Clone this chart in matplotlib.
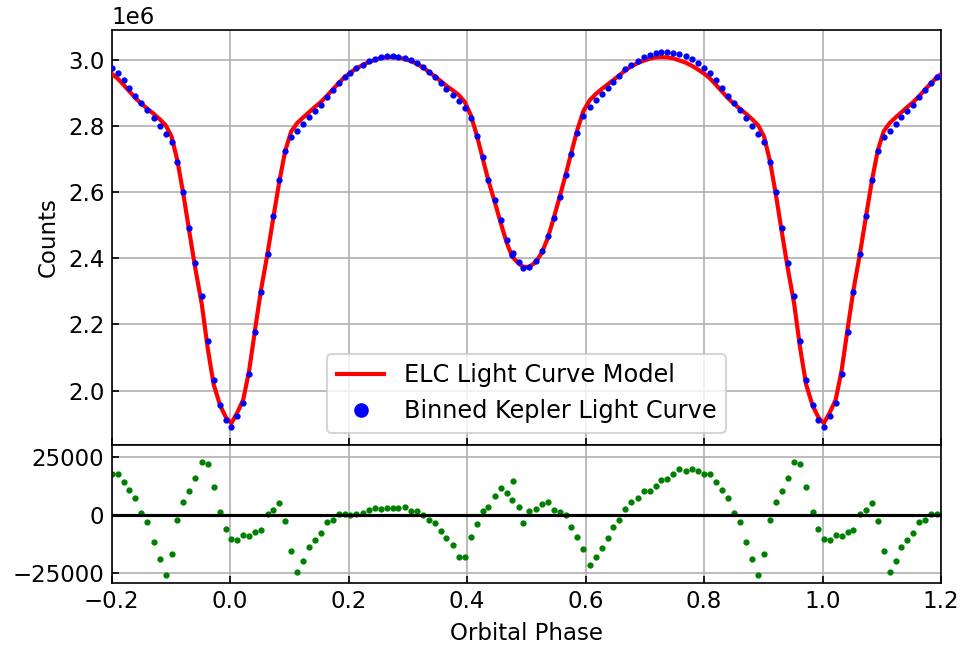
import numpy as np
import matplotlib
matplotlib.use("Agg")
import matplotlib.pyplot as plt

# one orbital cycle of binned points (phase, ELC model, residual)
phase = [0.002, 0.012, 0.022, 0.032, 0.042, 0.052, 0.063, 0.073, 0.083, 0.093,
         0.103, 0.113, 0.123, 0.133, 0.143, 0.153, 0.163, 0.173, 0.183, 0.193,
         0.203, 0.213, 0.224, 0.234, 0.244, 0.254, 0.264, 0.274, 0.284, 0.295,
         0.305, 0.315, 0.325, 0.335, 0.345, 0.355, 0.365, 0.376, 0.386, 0.396,
         0.406, 0.416, 0.426, 0.436, 0.447, 0.457, 0.467, 0.476, 0.478, 0.487,
         0.494, 0.504, 0.516, 0.526, 0.536, 0.546, 0.556, 0.566, 0.576, 0.586,
         0.596, 0.607, 0.617, 0.627, 0.637, 0.647, 0.657, 0.667, 0.677, 0.688,
         0.698, 0.708, 0.718, 0.728, 0.738, 0.748, 0.758, 0.769, 0.779, 0.789,
         0.800, 0.810, 0.820, 0.830, 0.840, 0.850, 0.860, 0.871, 0.881, 0.891,
         0.901, 0.911, 0.921, 0.931, 0.941, 0.952, 0.962, 0.972, 0.983, 0.993]

model = [1.901, 1.933, 1.972, 2.060, 2.184, 2.304, 2.414, 2.525, 2.633, 2.726,
         2.784, 2.809, 2.826, 2.842, 2.858, 2.873, 2.891, 2.911, 2.930, 2.948,
         2.962, 2.975, 2.985, 2.994, 3.000, 3.006, 3.008, 3.009, 3.007, 3.003,
         2.997, 2.989, 2.978, 2.965, 2.951, 2.937, 2.922, 2.908, 2.894, 2.873,
         2.834, 2.774, 2.704, 2.634, 2.568, 2.505, 2.446, 2.405, 2.401, 2.384,
         2.375, 2.373, 2.389, 2.417, 2.461, 2.521, 2.585, 2.651, 2.721, 2.789,
         2.845, 2.879, 2.897, 2.912, 2.926, 2.940, 2.954, 2.969, 2.981, 2.991,
         2.998, 3.004, 3.008, 3.009, 3.008, 3.005, 2.999, 2.992, 2.983, 2.972,
         2.959, 2.944, 2.925, 2.905, 2.885, 2.868, 2.853, 2.837, 2.821, 2.803,
         2.769, 2.695, 2.594, 2.481, 2.371, 2.262, 2.129, 2.019, 1.955, 1.918]

resid = [-10510, -10950, -8920, -9350, -7470, -6450, 510, 2100, 5150, -2680,
         -15730, -24870, -19790, -13990, -10800, -7900, -3260, -2100, 360, 360,
         70, 220, 800, 1960, 2830, 2540, 3120, 3120, 3120, 3410,
         1670, 1670, -70, -2390, -3700, -7180, -10080, -12980, -18340, -18340,
         -9790, -3840, 1810, 3550, 8050, 11530, 9500, 6450, 14720, 3550,
         -3700, 1670, 2680, 4420, 5580, 1960, 1090, -70, -5150, -9640,
         -14860, -21820, -18050, -14570, -10080, -5150, -2250, 2540, 5440, 7180,
         10080, 10370, 12400, 15150, 15590, 17470, 19650, 18780, 19940, 19070,
         17760, 17470, 14140, 10800, 7030, 800, -3260, -11960, -19210, -26030,
         -17040, -2250, 5290, 10370, 16020, 22550, 22110, 11820, 1230, -6310]

p = np.array(phase)
m = np.array(model) * 1e6
r = np.array(resid, dtype=float)

# repeat the cycle so it covers -0.2 .. 1.2
ph = np.concatenate([p - 1, p, p + 1])
mm = np.concatenate([m, m, m])
rr = np.concatenate([r, r, r])
keep = (ph > -0.215) & (ph < 1.215)
ph, mm, rr = ph[keep], mm[keep], rr[keep]
data = mm + rr

plt.rcParams['font.size'] = 11

fig = plt.figure(figsize=(962 / 150, 646 / 150), dpi=150)
ax1 = fig.add_axes([0.1161, 0.3111, 0.8622, 0.6425])
ax2 = fig.add_axes([0.1161, 0.0975, 0.8622, 0.2136], sharex=ax1)

ax1.plot(ph, mm, 'r-', lw=2, label='ELC Light Curve Model', zorder=3)
ax1.plot(ph, data, 'b.', ms=4, label='Binned Kepler Light Curve', zorder=4)
ax1.set_ylabel('Counts')
ax1.set_ylim(1.835e6, 3.091e6)
ax1.set_yticks([2.0e6, 2.2e6, 2.4e6, 2.6e6, 2.8e6, 3.0e6])
ax1.grid(True)
ax1.legend(loc='lower center', markerscale=3, fontsize=11.5)
ax1.tick_params(direction='in', labelbottom=False)

ax2.plot(ph, rr, 'g.', ms=4)
ax2.axhline(0, color='k', lw=1.5)
ax2.set_ylim(-29480, 30090)
ax2.set_yticks([-25000, 0, 25000])
ax2.set_xlim(-0.2, 1.2)
ax2.set_xlabel('Orbital Phase')
ax2.grid(True)
ax2.tick_params(direction='in')

fig.savefig('out.png', dpi=150)
